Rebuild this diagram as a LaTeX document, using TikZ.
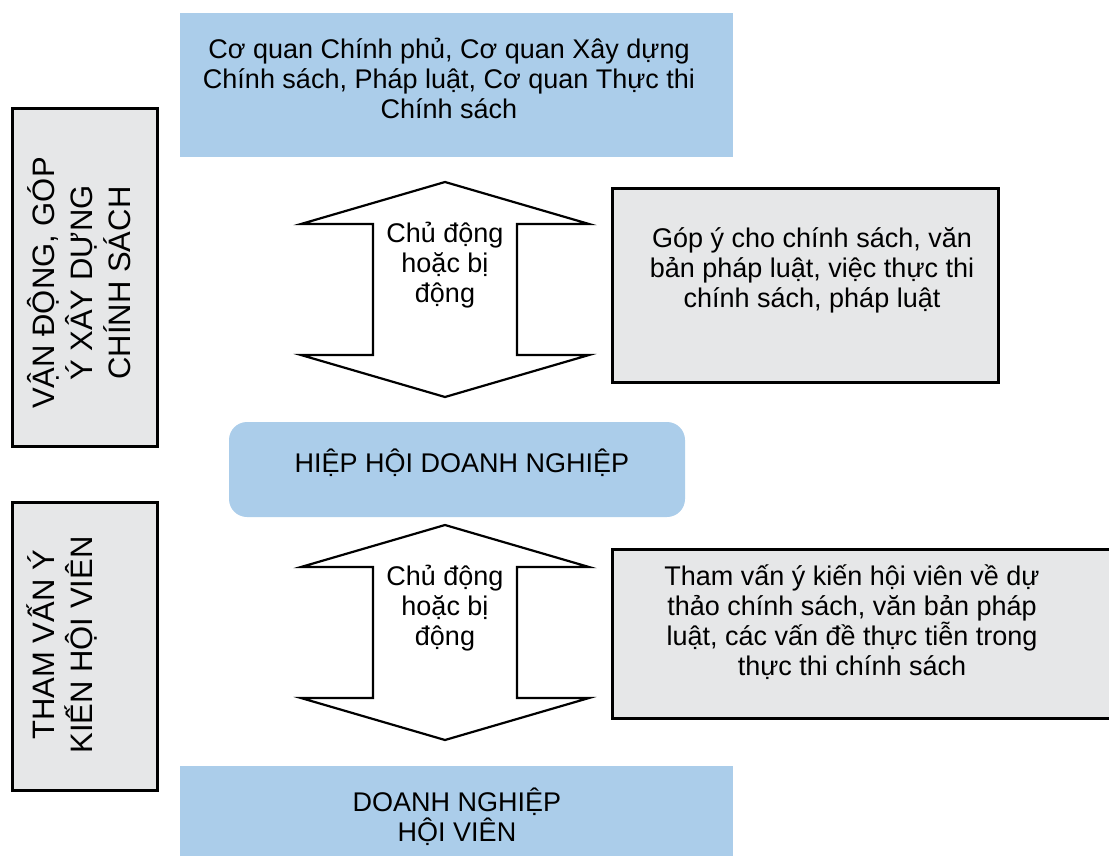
\documentclass[tikz,border=0pt]{standalone}
\usepackage{fontspec}
\setmainfont{Liberation Sans}
\usepackage{xcolor}
\definecolor{paleblue}{HTML}{ABCDEA}
\definecolor{palegray}{HTML}{E6E7E8}

\begin{document}
\begin{tikzpicture}[
  x=1pt, y=-1pt,
  bluebox/.style={rectangle,fill=paleblue,inner sep=0pt},
  greybox/.style={rectangle,draw,line width=3pt,fill=palegray,inner sep=0pt},
  txt/.style={align=center,inner sep=0pt,font=\fontsize{27}{30}\selectfont},
  sidetxt/.style={align=center,inner sep=0pt,rotate=90,font=\fontsize{31}{38}\selectfont},
  arrowline/.style={draw,line width=2.2pt,line join=miter,fill=white}
]
  \useasboundingbox (0,0) rectangle (1109,856);
  \node[bluebox,minimum width=553pt,minimum height=144pt] (govt) at (456.5,85) {};
  \node[greybox,minimum width=145pt,minimum height=337pt] (lobby) at (84.5,277.5) {};
  \node[greybox,minimum width=145pt,minimum height=288pt] (consult) at (84.5,646) {};
  \node[greybox,minimum width=386pt,minimum height=193pt] (comment) at (805,285.5) {};
  \node[greybox,minimum width=520pt,minimum height=169pt] (opinion) at (872,633.5) {};
  \node[bluebox,rounded corners=18pt,minimum width=456pt,minimum height=95pt] (assoc) at (457,469.5) {};
  \node[bluebox,minimum width=553pt,minimum height=90pt] (member) at (456.5,811) {};
  \node[txt] (govttext) at (449,78) {Cơ quan Chính phủ, Cơ quan Xây dựng\\Chính sách, Pháp luật, Cơ quan Thực thi\\Chính sách};
  \node[sidetxt] (lobbytext) at (79,283) {VẬN ĐỘNG, GÓP\\Ý XÂY DỰNG\\CHÍNH SÁCH};
  \node[sidetxt] (consulttext) at (61.5,645) {THAM VẤN Ý\\KIẾN HỘI VIÊN};
  \node[txt] (commenttext) at (812,270) {Góp ý cho chính sách, văn\\bản pháp luật, việc thực thi\\chính sách, pháp luật};
  \node[txt] (opiniontext) at (852,622.5) {Tham vấn ý kiến hội viên về dự\\thảo chính sách, văn bản pháp\\luật, các vấn đề thực tiễn trong\\thực thi chính sách};
  \node[txt] (assoctext) at (462,463) {HIỆP HỘI DOANH NGHIỆP};
  \node[txt] (membertext) at (457,817) {DOANH NGHIỆP\\HỘI VIÊN};
  \foreach \ya/\nm in {182/up,525/down} {
    \draw[arrowline] (445,\ya) -- (589,\ya+42) -- (517,\ya+42) -- (517,\ya+173) -- (589,\ya+173)
      -- (445,\ya+215) -- (301,\ya+173) -- (373,\ya+173) -- (373,\ya+42) -- (301,\ya+42) -- cycle;
    \node[txt] (act\nm) at (445,\ya+83) {Chủ động\\hoặc bị\\động};
  }
\end{tikzpicture}
\end{document}
